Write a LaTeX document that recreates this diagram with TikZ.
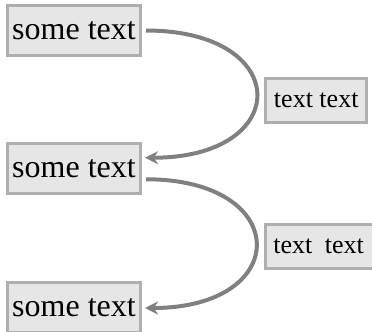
\documentclass[tikz,border=0pt]{standalone}
\usepackage{fontspec}
\setmainfont{Liberation Serif}
\usetikzlibrary{arrows.meta}

\definecolor{boxfill}{HTML}{E6E6E6}
\definecolor{boxline}{HTML}{AFAFAF}
\definecolor{arrline}{HTML}{808080}

\begin{document}
\begin{tikzpicture}[x=0.5pt,y=-0.5pt]

      \useasboundingbox (0,0) rectangle (372,332);

      \begin{scope}[every node/.style={rectangle,draw=boxline,fill=boxfill,line width=1.5pt,
          minimum width=66.5pt,minimum height=25pt,inner sep=0pt,
          font=\fontsize{16}{18}\selectfont}]
        \node (1) at (74,30.5)  {some text};
        \node (2) at (74,168.5) {some text};
        \node (3) at (74,308)   {some text};
      \end{scope}

      \begin{scope}[every node/.style={rectangle,draw=boxline,fill=boxfill,line width=1.5pt,
          minimum height=22pt,inner xsep=4pt,inner ysep=0pt,anchor=west,
          font=\fontsize{13}{15}\selectfont}]

        \begin{scope}[every edge/.style={draw=arrline,line width=2pt,
            -{Stealth[length=6.5pt,width=6.5pt]},shorten <=2pt,shorten >=1.5pt}]
          \path (1.east) edge[out=0,in=0,looseness=3.05]
            node[xshift=4.5pt,yshift=-3pt] {text text} (2.9);
          \path (2.-9)   edge[out=0,in=0,looseness=3.0]
            node[xshift=4.5pt,yshift=-1.5pt,minimum width=56pt,align=left] {text\hspace{0.48em}text\hspace{4pt}} (3.east);
        \end{scope}
      \end{scope}

    \end{tikzpicture}
\end{document}
